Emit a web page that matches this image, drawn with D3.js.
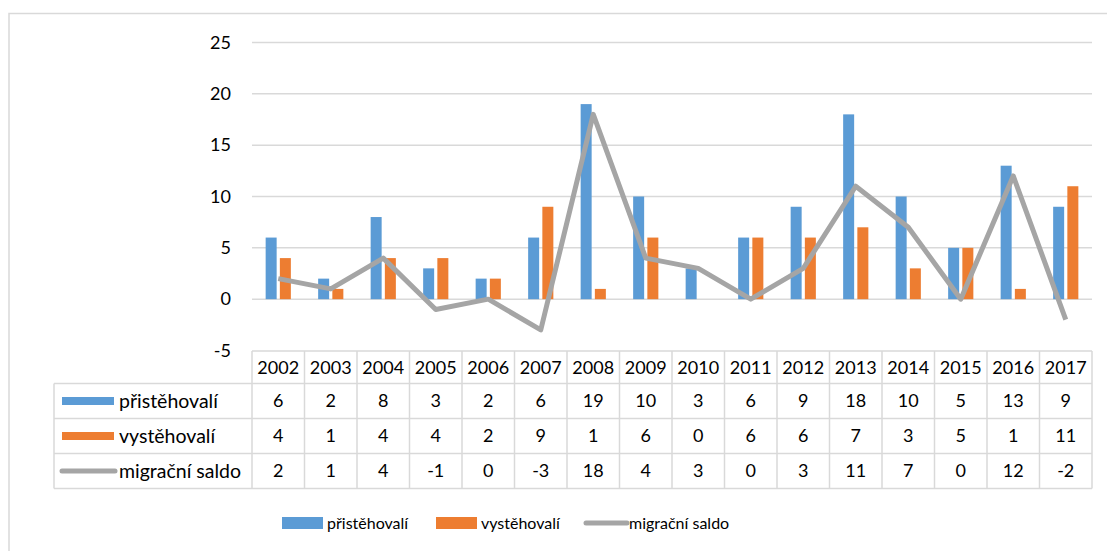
<!DOCTYPE html>
<html>
<head>
<meta charset="utf-8">
<script src="https://cdn.jsdelivr.net/npm/d3@7"></script>
<style>
  body { margin: 0; background: #fff; }
  text { font-family: Lato, "Open Sans", sans-serif; fill: #000; }
</style>
</head>
<body>
<div id="chart"></div>
<script>
// data
var years = ["2002","2003","2004","2005","2006","2007","2008","2009","2010","2011","2012","2013","2014","2015","2016","2017"];
var prist = [6, 2, 8, 3, 2, 6, 19, 10, 3, 6, 9, 18, 10, 5, 13, 9];
var vyst  = [4, 1, 4, 4, 2, 9, 1, 6, 0, 6, 6, 7, 3, 5, 1, 11];
var saldo = [2, 1, 4, -1, 0, -3, 18, 4, 3, 0, 3, 11, 7, 0, 12, -2];
var yTicks = [-5, 0, 5, 10, 15, 20, 25];
var seriesNames = ["přistěhovalí", "vystěhovalí", "migrační saldo"];

var colors = ["#5B9BD5", "#ED7D31", "#A5A5A5"];
var gridCol = "#D9D9D9";

var W = 1107, H = 551;
var svg = d3.select("#chart").append("svg").attr("width", W).attr("height", H);

// outer chart border
svg.append("rect").attr("x", 9).attr("y", 13.5).attr("width", W).attr("height", H)
  .attr("fill", "none").attr("stroke", gridCol).attr("stroke-width", 1.5);

// scales
var x = d3.scaleBand().domain(years).range([252, 1092]);
var y = d3.scaleLinear().domain([-5, 25]).range([350.5, 42.5]);

// gridlines
svg.append("g").selectAll("line").data(yTicks.filter(function(d){ return d > -5; })).enter().append("line")
  .attr("x1", 252).attr("x2", 1092)
  .attr("y1", function(d){ return y(d); }).attr("y2", function(d){ return y(d); })
  .attr("stroke", gridCol).attr("stroke-width", 1.5);

// y labels
svg.append("g").selectAll("text").data(yTicks).enter().append("text")
  .text(function(d){ return d; })
  .attr("x", 231).attr("y", function(d){ return y(d); })
  .attr("dy", "0.35em")
  .attr("text-anchor", "end")
  .style("font-size", "18px");

// bars
var bw = 11, gap = 1.6;
var cx = function(i){ return x(years[i]) + x.bandwidth() / 2; };
svg.append("g").selectAll("rect").data(prist).enter().append("rect")
  .attr("x", function(d, i){ return cx(i) - gap - bw; })
  .attr("y", function(d){ return y(d); })
  .attr("width", bw)
  .attr("height", function(d){ return y(0) - y(d); })
  .attr("fill", colors[0]);
svg.append("g").selectAll("rect").data(vyst).enter().append("rect")
  .attr("x", function(d, i){ return cx(i) + gap; })
  .attr("y", function(d){ return y(d); })
  .attr("width", bw)
  .attr("height", function(d){ return y(0) - y(d); })
  .attr("fill", colors[1]);

// line
var line = d3.line().x(function(d, i){ return cx(i); }).y(function(d){ return y(d); });
svg.append("path").datum(saldo).attr("d", line)
  .attr("fill", "none").attr("stroke", colors[2]).attr("stroke-width", 5)
  .attr("stroke-linejoin", "round");

// data table
var rowTops = [351, 383.5, 418.5, 453.5, 488.5];
var tbl = svg.append("g").attr("stroke", gridCol).attr("stroke-width", 1.5);
rowTops.forEach(function(t, r){
  tbl.append("line").attr("x1", r === 0 ? 252 : 54).attr("x2", 1092).attr("y1", t).attr("y2", t);
});
// vertical lines
tbl.append("line").attr("x1", 54).attr("x2", 54).attr("y1", rowTops[1]).attr("y2", rowTops[4]);
years.forEach(function(yr){
  tbl.append("line").attr("x1", x(yr)).attr("x2", x(yr)).attr("y1", rowTops[0]).attr("y2", rowTops[4]);
});
tbl.append("line").attr("x1", 1092).attr("x2", 1092).attr("y1", rowTops[0]).attr("y2", rowTops[4]);

// header years
svg.append("g").selectAll("text").data(years).enter().append("text")
  .text(function(d){ return d; })
  .attr("x", function(d){ return x(d) + x.bandwidth() / 2; })
  .attr("y", (rowTops[0] + rowTops[1]) / 2)
  .attr("dy", "0.35em").attr("text-anchor", "middle")
  .style("font-size", "18px");

// data rows
[prist, vyst, saldo].forEach(function(vals, r){
  var mid = (rowTops[r + 1] + rowTops[r + 2]) / 2;
  svg.append("g").selectAll("text").data(vals).enter().append("text")
    .text(function(d){ return d; })
    .attr("x", function(d, i){ return cx(i); })
    .attr("y", mid)
    .attr("dy", "0.35em").attr("text-anchor", "middle")
    .style("font-size", "18px");
  // key in the label cell
  if (r < 2) {
    svg.append("rect").attr("x", 62).attr("y", mid - 4).attr("width", 52).attr("height", 8).attr("fill", colors[r]);
  } else {
    svg.append("line").attr("x1", 62).attr("x2", 115).attr("y1", mid).attr("y2", mid)
      .attr("stroke", colors[2]).attr("stroke-width", 5).attr("stroke-linecap", "round");
  }
  svg.append("text").text(seriesNames[r])
    .attr("x", 119).attr("y", mid).attr("dy", "0.35em")
    .style("font-size", "19.5px");
});

// legend
var legX = [282, 436, 584];
seriesNames.forEach(function(name, i){
  if (i < 2) {
    svg.append("rect").attr("x", legX[i]).attr("y", 517).attr("width", 41).attr("height", 12).attr("fill", colors[i]);
  } else {
    svg.append("line").attr("x1", legX[i] + 2).attr("x2", legX[i] + 43).attr("y1", 523).attr("y2", 523)
      .attr("stroke", colors[2]).attr("stroke-width", 5).attr("stroke-linecap", "round");
  }
  svg.append("text").text(name)
    .attr("x", legX[i] + 45).attr("y", 523).attr("dy", "0.35em")
    .style("font-size", "16px");
});
</script>
</body>
</html>
